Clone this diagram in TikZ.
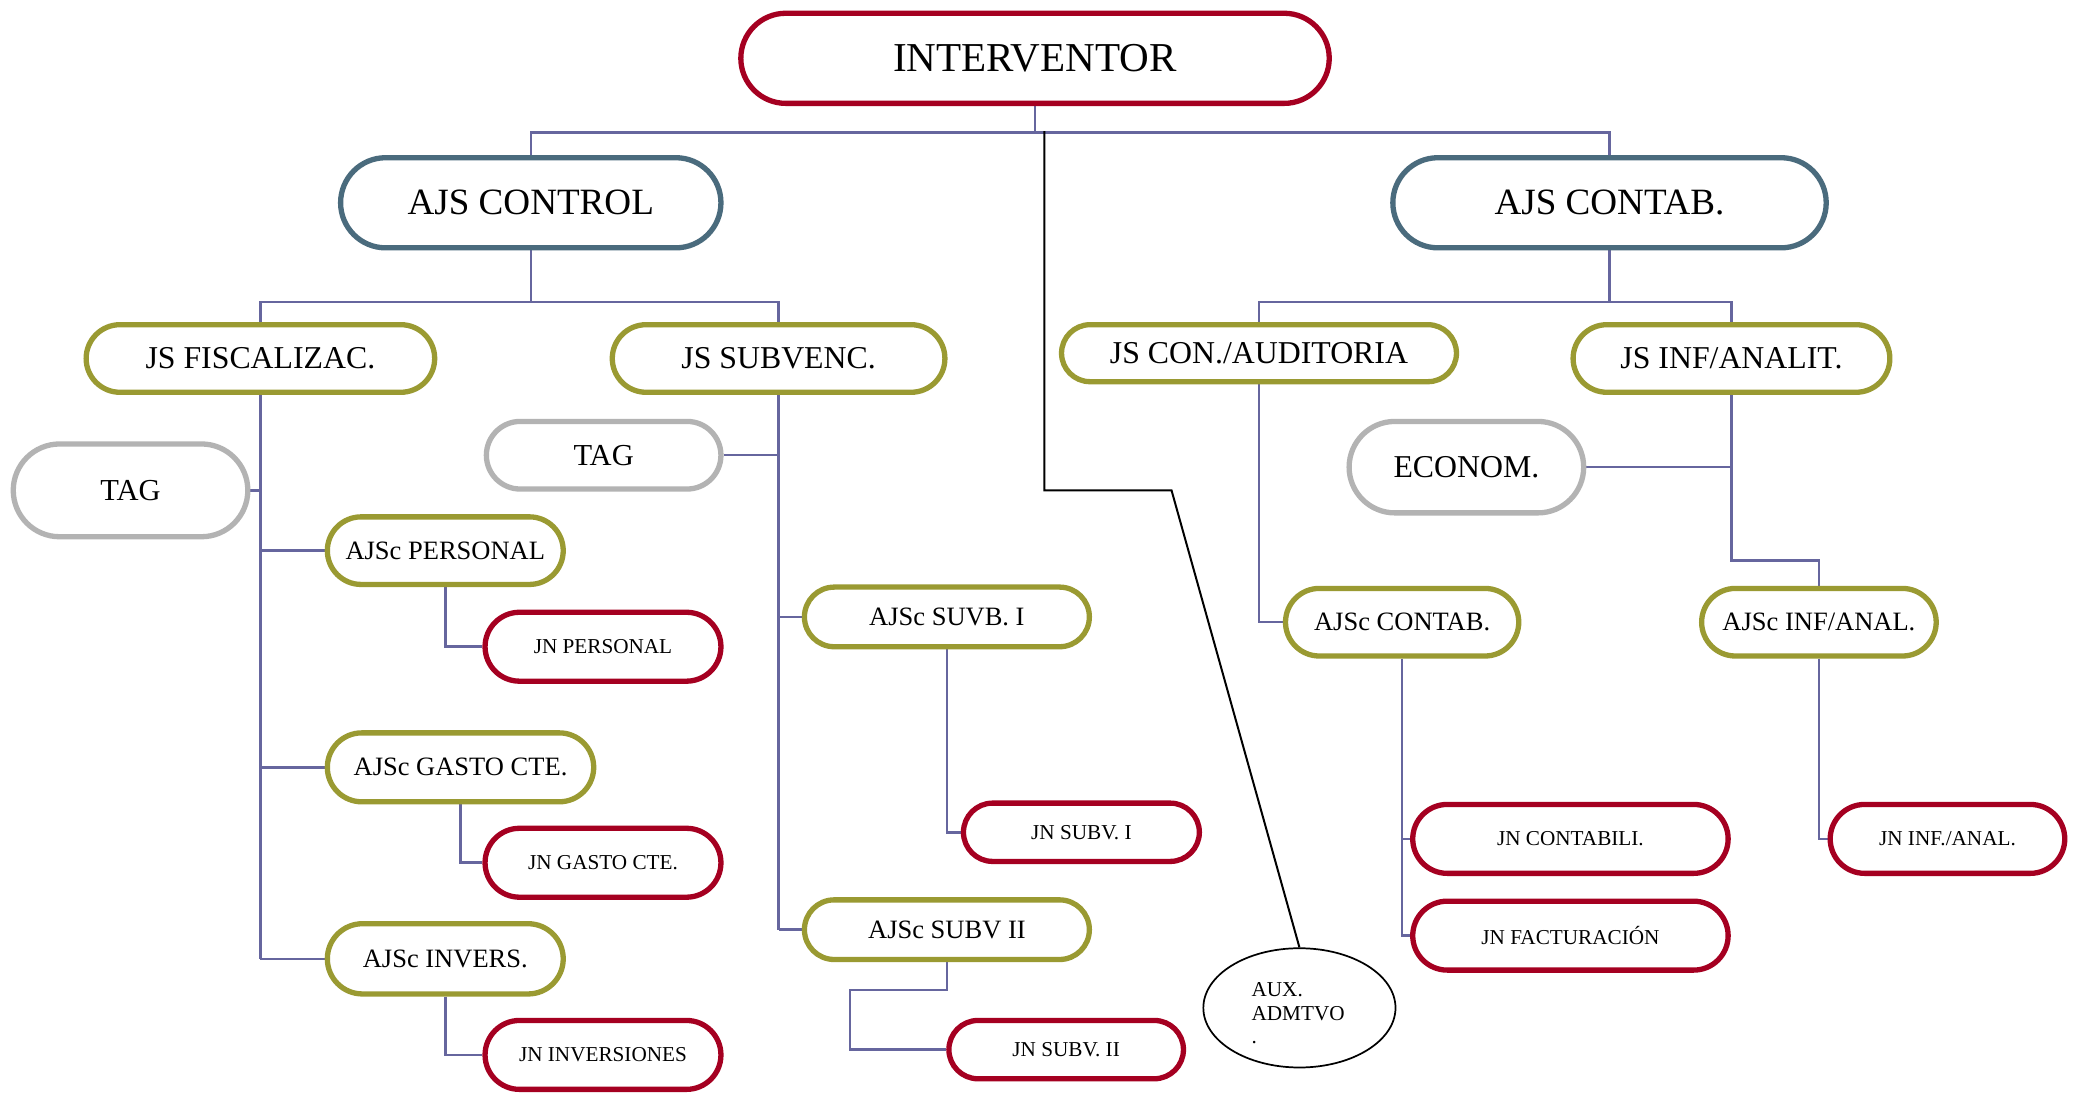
\documentclass[tikz,border=0pt]{standalone}
\usepackage{fontspec}
\setmainfont{Liberation Serif}
\usetikzlibrary{shapes.geometric,backgrounds,calc}
\definecolor{cR}{HTML}{A50021}
\definecolor{cB}{HTML}{4A6B7D}
\definecolor{cO}{HTML}{9A9A32}
\definecolor{cG}{HTML}{B3B3B3}
\definecolor{cL}{HTML}{66669E}
\tikzset{
  pill/.style={line width=4pt, fill=white, inner sep=0pt, align=center},
  rpill/.style={pill, draw=cR},
  bpill/.style={pill, draw=cB},
  opill/.style={pill, draw=cO},
  gpill/.style={pill, draw=cG},
  conn/.style={draw=cL, line width=1.9pt},
  auxl/.style={draw=black, line width=1.5pt},
  fA/.style={font=\fontsize{#1}{#1}\selectfont},
}
\begin{document}
\begin{tikzpicture}[x=1pt,y=-1pt]
\useasboundingbox (0,0) rectangle (1568,827);

\node[rpill, minimum width=444pt, minimum height=68pt, rounded corners=34pt, fA=31] (int) at (781,44) {INTERVENTOR};
\node[bpill, minimum width=287pt, minimum height=68pt, rounded corners=34pt, fA=28] (ctl) at (400.5,153) {AJS CONTROL};
\node[bpill, minimum width=327pt, minimum height=68pt, rounded corners=34pt, fA=28] (ctb) at (1214.5,153) {AJS CONTAB.};

\node[opill, minimum width=263pt, minimum height=51pt, rounded corners=25.5pt, fA=24] (fis) at (196.5,270.5) {JS FISCALIZAC.};
\node[opill, minimum width=251pt, minimum height=51pt, rounded corners=25.5pt, fA=24] (sub) at (587.5,270.5) {JS SUBVENC.};
\node[opill, minimum width=298pt, minimum height=43pt, rounded corners=21.5pt, fA=24] (aud) at (950,266.5) {JS CON./AUDITORIA};
\node[opill, minimum width=239pt, minimum height=51pt, rounded corners=25.5pt, fA=24] (inf) at (1306.5,270.5) {JS INF/ANALIT.};

\node[gpill, minimum width=177pt, minimum height=70pt, rounded corners=35pt, fA=23] (tag1) at (98.5,370) {TAG};
\node[gpill, minimum width=177pt, minimum height=51pt, rounded corners=25.5pt, fA=23] (tag2) at (455.5,343.5) {TAG};
\node[gpill, minimum width=177pt, minimum height=69pt, rounded corners=34.5pt, fA=24] (eco) at (1106.5,352.5) {ECONOM.};

\node[opill, minimum width=178pt, minimum height=51pt, rounded corners=25.5pt, fA=20] (aper) at (336,415.5) {AJSc PERSONAL};
\node[rpill, minimum width=178pt, minimum height=52pt, rounded corners=26pt, fA=16] (jper) at (455,488) {JN PERSONAL};
\node[opill, minimum width=201pt, minimum height=52pt, rounded corners=26pt, fA=20] (agas) at (347.5,579) {AJSc GASTO CTE.};
\node[rpill, minimum width=178pt, minimum height=52pt, rounded corners=26pt, fA=16] (jgas) at (455,651) {JN GASTO CTE.};
\node[opill, minimum width=178pt, minimum height=53pt, rounded corners=26.5pt, fA=20] (ainv) at (336,723.5) {AJSc INVERS.};
\node[rpill, minimum width=178pt, minimum height=52pt, rounded corners=26pt, fA=16] (jinv) at (455,796) {JN INVERSIONES};

\node[opill, minimum width=215pt, minimum height=45pt, rounded corners=22.5pt, fA=20] (as1) at (714.5,465.5) {AJSc SUVB. I};
\node[rpill, minimum width=178pt, minimum height=44pt, rounded corners=22pt, fA=16] (js1) at (816,628) {JN SUBV. I};
\node[opill, minimum width=215pt, minimum height=45pt, rounded corners=22.5pt, fA=20] (as2) at (714.5,701.5) {AJSc SUBV II};
\node[rpill, minimum width=177pt, minimum height=44pt, rounded corners=22pt, fA=16] (js2) at (804.5,792) {JN SUBV. II};

\node[opill, minimum width=176pt, minimum height=51pt, rounded corners=25.5pt, fA=20] (acon) at (1058,469.5) {AJSc CONTAB.};
\node[rpill, minimum width=238pt, minimum height=52pt, rounded corners=26pt, fA=16] (jcon) at (1185,633) {JN CONTABILI.};
\node[rpill, minimum width=238pt, minimum height=52pt, rounded corners=26pt, fA=16] (jfac) at (1185,706) {JN FACTURACIÓN};
\node[opill, minimum width=177pt, minimum height=51pt, rounded corners=25.5pt, fA=20] (ainf) at (1372.5,469.5) {AJSc INF/ANAL.};
\node[rpill, minimum width=177pt, minimum height=52pt, rounded corners=26pt, fA=16] (jinf) at (1469.5,633) {JN INF./ANAL.};

\node[ellipse, draw=black, line width=1.3pt, fill=white, minimum width=145pt, minimum height=90pt, inner sep=0pt] (aux) at (980.5,760.5) {};
\node[font=\fontsize{16}{18}\selectfont, align=left, inner sep=0pt] (auxt) at ($(aux.center)+(-1,4)$) {AUX.\\ADMTVO\\.};

\begin{pgfonlayer}{background}
\fill[white] (0,0) rectangle (1568,827);
\draw[conn] (int.south) -- ++(0,20) coordinate (b1);
\draw[conn] (ctl.north) |- (b1) -| (ctb.north);
\draw[conn] (ctl.south) -- ++(0,39) coordinate (b2);
\draw[conn] (fis.north) |- (b2) -| (sub.north);
\draw[conn] (ctb.south) -- ++(0,39) coordinate (b3);
\draw[conn] (aud.north) |- (b3) -| (inf.north);

\draw[conn] (fis.south) -- (fis.south |- ainv.west);
\draw[conn] (tag1.east) -- (tag1.east -| fis.south);
\draw[conn] (fis.south |- aper.west) -- (aper.west);
\draw[conn] (fis.south |- agas.west) -- (agas.west);
\draw[conn] (fis.south |- ainv.west) -- (ainv.west);
\draw[conn] (aper.south) |- (jper.west);
\draw[conn] (agas.south) |- (jgas.west);
\draw[conn] (ainv.south) |- (jinv.west);

\draw[conn] (sub.south) -- (sub.south |- as2.west);
\draw[conn] (tag2.east) -- (tag2.east -| sub.south);
\draw[conn] (sub.south |- as1.west) -- (as1.west);
\draw[conn] (sub.south |- as2.west) -- (as2.west);
\draw[conn] (as1.south) |- (js1.west);
\draw[conn] (as2.south) -- ++(0,21) -- ++(-73,0) |- (js2.west);

\draw[conn] (aud.south) |- (acon.west);
\draw[conn] (acon.south) |- (jfac.west);
\draw[conn] (acon.south |- jcon.west) -- (jcon.west);

\draw[conn] (inf.south) |- ($(ainf.north)+(0,-19)$) -- (ainf.north);
\draw[conn] (eco.east) -- (eco.east -| inf.south);
\draw[conn] (ainf.south) |- (jinf.west);

\coordinate (auxs) at (788,99);
\draw[auxl] (auxs) -- (788,370) -- (884,370) -- (aux.north);
\end{pgfonlayer}
\end{tikzpicture}
\end{document}
